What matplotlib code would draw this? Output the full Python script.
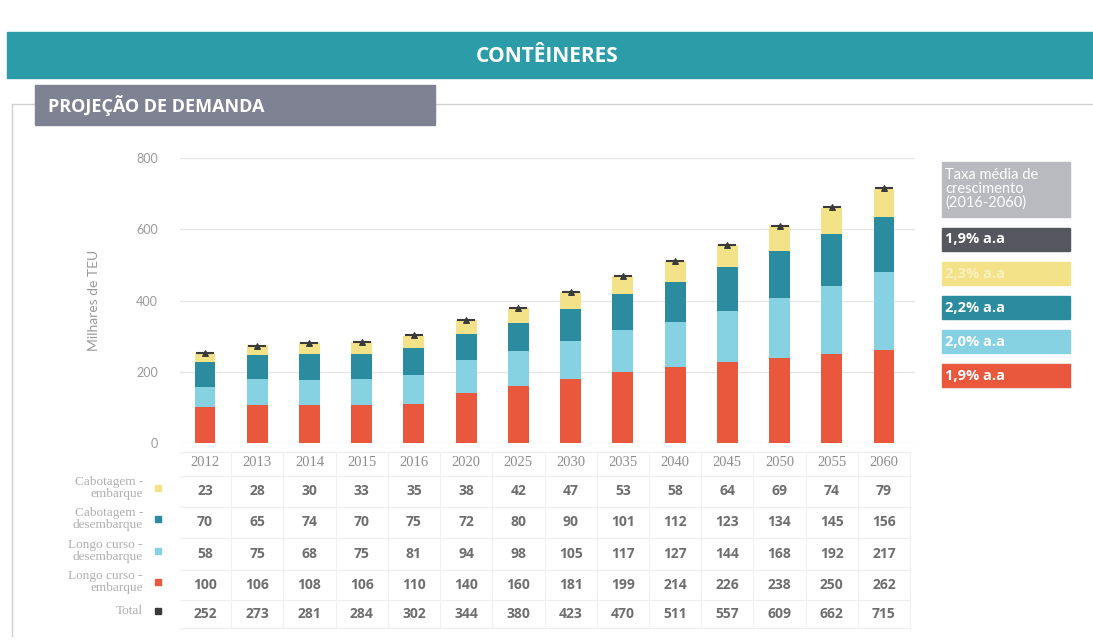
import matplotlib
matplotlib.use("Agg")
import matplotlib.pyplot as plt
from matplotlib.patches import Rectangle
import numpy as np

years = ["2012", "2013", "2014", "2015", "2016", "2020", "2025", "2030",
         "2035", "2040", "2045", "2050", "2055", "2060"]
cab_emb = [23, 28, 30, 33, 35, 38, 42, 47, 53, 58, 64, 69, 74, 79]
cab_des = [70, 65, 74, 70, 75, 72, 80, 90, 101, 112, 123, 134, 145, 156]
lc_des = [58, 75, 68, 75, 81, 94, 98, 105, 117, 127, 144, 168, 192, 217]
lc_emb = [100, 106, 108, 106, 110, 140, 160, 181, 199, 214, 226, 238, 250, 262]
total = [252, 273, 281, 284, 302, 344, 380, 423, 470, 511, 557, 609, 662, 715]

row_labels = ["Cabotagem -\nembarque", "Cabotagem -\ndesembarque",
              "Longo curso -\ndesembarque", "Longo curso -\nembarque", "Total"]
rates = ["1,9% a.a", "2,3% a.a", "2,2% a.a", "2,0% a.a", "1,9% a.a"]
yticks = [0, 200, 400, 600, 800]

C_RED = "#e9573c"
C_LCYAN = "#86d2e2"
C_TEAL = "#2a8c9e"
C_YEL = "#f3e287"
C_TOT = "#3a3a3a"
C_LEGTOT = "#55565e"

W, H = 1093, 641
fig = plt.figure(figsize=(W / 100, H / 100), dpi=100)
fig.patch.set_facecolor("white")

def fx(px):
    return px / W

def fy(py):
    return 1 - py / H

def rect_px(x0, y0, x1, y1, **kw):
    fig.patches.append(Rectangle((fx(x0), fy(y1)), fx(x1) - fx(x0), fy(y0) - fy(y1),
                                 transform=fig.transFigure, **kw))

# banner
rect_px(7, 32, W, 78, color="#2b9ca8", zorder=0)
fig.text(fx(547), fy(56), "CONTÊINERES", color="white", fontsize=15, fontweight="bold",
         family="Open Sans", ha="center", va="center")

# section frame
fig.lines.append(plt.Line2D([fx(12), fx(W)], [fy(104), fy(104)], transform=fig.transFigure,
                            color="#d0d0d0", lw=1))
fig.lines.append(plt.Line2D([fx(12), fx(12)], [fy(104), fy(636)], transform=fig.transFigure,
                            color="#d0d0d0", lw=1))
rect_px(35, 85, 435, 125, color="#7e8293", zorder=2)
fig.text(fx(48), fy(105), "PROJEÇÃO DE DEMANDA", color="white", fontsize=13, fontweight="bold",
         family="Open Sans", ha="left", va="center")

# main axes
x_left, x_right = 180, 915
y_top, y_zero = 158, 443
x0_px, x13_px = 205, 884
unit = (x13_px - x0_px) / 13
ax = fig.add_axes([fx(x_left), fy(y_zero), fx(x_right) - fx(x_left), fy(y_top) - fy(y_zero)])
x = np.arange(len(years))
ax.set_xlim(-(x0_px - x_left) / unit, 13 + (x_right - x13_px) / unit)
ax.set_ylim(0, 800)
bw = 0.40
b1 = np.array(lc_emb)
b2 = b1 + np.array(lc_des)
b3 = b2 + np.array(cab_des)
ax.bar(x, lc_emb, bw, color=C_RED, zorder=3)
ax.bar(x, lc_des, bw, bottom=b1, color=C_LCYAN, zorder=3)
ax.bar(x, cab_des, bw, bottom=b2, color=C_TEAL, zorder=3)
ax.bar(x, cab_emb, bw, bottom=b3, color=C_YEL, zorder=3)
ax.scatter(x, total, marker="_", s=150, color=C_TOT, linewidths=1.5, zorder=5)
ax.scatter(x, total, marker="^", s=16, color=C_TOT, zorder=5)
ax.set_yticks(yticks)
ax.set_yticklabels([str(v) for v in yticks], color="#9a9a9a", fontsize=9, family="Lato")
ax.tick_params(axis="y", length=0, pad=16)
ax.set_xticks([])
for s in ax.spines.values():
    s.set_visible(False)
ax.grid(axis="y", color="#e6e6e6", lw=1, zorder=0)
ax.set_ylabel("Milhares de TEU", color="#9a9a9a", fontsize=10, family="Lato", labelpad=26)

# table axes
t_top, t_bot = 450, 630
tax = fig.add_axes([fx(x_left), fy(t_bot), fx(x_right) - fx(x_left), fy(t_top) - fy(t_bot)])
tax.set_xlim(ax.get_xlim())
tax.set_ylim(t_bot, t_top)
tax.axis("off")
row_y = [491, 522, 554, 585, 614]
hlines = [452, 476, 507, 538, 570, 600, 628]
for hy in hlines:
    tax.plot([-0.5, 13.5], [hy, hy], color="#eeeeee", lw=0.8)
for i in range(15):
    tax.plot([i - 0.5, i - 0.5], [452, 628], color="#f0f0f0", lw=0.8)
for i, yr in enumerate(years):
    tax.text(i, 463, yr, ha="center", va="center", color="#8c8c8c", fontsize=10.5,
             family="Liberation Serif")
rows = [cab_emb, cab_des, lc_des, lc_emb, total]
for r, vals in enumerate(rows):
    for i, v in enumerate(vals):
        tax.text(i, row_y[r], str(v), ha="center", va="center", color="#6e6e6e",
                 fontsize=10, fontweight="bold", family="Open Sans")

# row labels and markers
mcolors = [C_YEL, C_TEAL, C_LCYAN, C_RED, C_TOT]
for r, lab in enumerate(row_labels):
    fig.text(fx(143), fy(row_y[r] - 3), lab, ha="right", va="center", color="#b0b0b0",
             fontsize=9.5, family="Liberation Serif", linespacing=0.92)
    rect_px(155, row_y[r] - 6, 161, row_y[r], color=mcolors[r], zorder=3)

# legend boxes
rect_px(942, 162, 1070, 217, color="#b9bac0", zorder=2)
fig.text(fx(945), fy(189), "Taxa média de\ncrescimento\n(2016-2060)", color="white",
         fontsize=10.5, family="Lato", ha="left", va="center", linespacing=0.95)
leg_colors = [C_LEGTOT, C_YEL, C_TEAL, C_LCYAN, C_RED]
leg_text_colors = ["white", "#f9f0c0", "white", "white", "white"]
leg_y = [228, 262, 296, 330, 364]
for c, tc, yy, t in zip(leg_colors, leg_text_colors, leg_y, rates):
    rect_px(942, yy, 1070, yy + 23, color=c, zorder=2)
    fig.text(fx(945), fy(yy + 11.5), t, color=tc, fontsize=10.5, fontweight="bold",
             family="Open Sans", ha="left", va="center")

fig.savefig("out.png", dpi=100)
